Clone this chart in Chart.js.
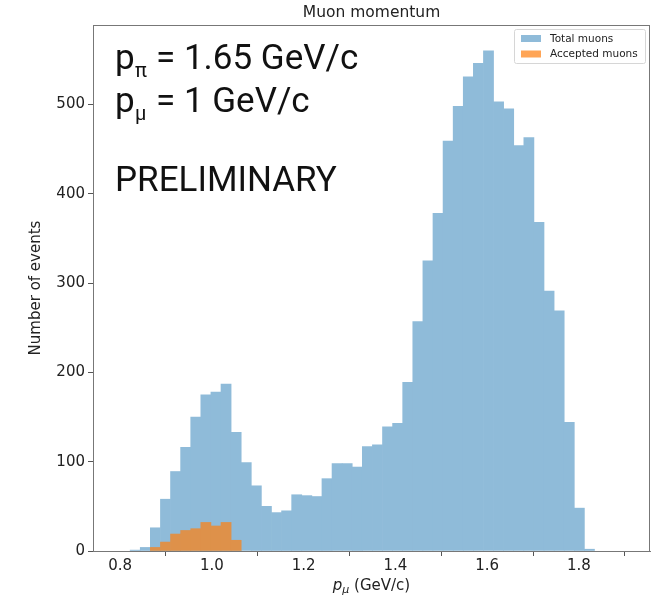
<!DOCTYPE html>
<html>
<head>
<meta charset="utf-8">
<script src="https://cdn.jsdelivr.net/npm/chart.js@4.4.0/dist/chart.umd.min.js"></script>
<style>
  html, body { margin: 0; padding: 0; background: #fff; }
  canvas { display: block; }
</style>
</head>
<body>
<canvas id="c" width="662" height="599"></canvas>
<script>
// histogram bins: 50 bins of width 0.022 starting at 0.8 GeV/c
const binStart = 0.8;
const binWidth = 0.022;
const totalMuons = [
  0, 1, 4, 26, 58, 89, 116, 150, 175, 178,
  187, 133, 99, 73, 50, 43, 45, 63, 62, 61,
  81, 98, 98, 94, 117, 119, 139, 143, 189, 257,
  325, 378, 459, 498, 531, 546, 560, 503, 495, 454,
  463, 368, 291, 269, 144, 48, 2, 0, 0, 0
];
const acceptedMuons = [
  0, 0, 0, 4, 10, 19, 23, 25, 32, 28,
  32, 12, 0, 0, 0, 0, 0, 0, 0, 0,
  0, 0, 0, 0, 0, 0, 0, 0, 0, 0,
  0, 0, 0, 0, 0, 0, 0, 0, 0, 0,
  0, 0, 0, 0, 0, 0, 0, 0, 0, 0
];
const xTicks = [0.8, 1.0, 1.2, 1.4, 1.6, 1.8];
const yTicks = [0, 100, 200, 300, 400, 500];
const seriesLabels = ['Total muons', 'Accepted muons'];
// alpha-blended matplotlib colours flattened to opaque (orange sits over blue)
const seriesColors = ['rgb(143,187,217)', 'rgb(222,145,74)'];
const legendColors = ['rgb(143,187,217)', 'rgb(255,165,86)'];

// empty bins get no bar at all
const toPoints = arr => arr.map((v, i) => ({ x: binStart + binWidth * (i + 0.5), y: v === 0 ? null : v }));

const FONT = '"DejaVu Sans", sans-serif';

const decor = {
  id: 'decor',
  afterDraw(chart) {
    const { ctx, chartArea: a } = chart;
    ctx.save();

    // frame (matplotlib spines)
    ctx.strokeStyle = '#777';
    ctx.lineWidth = 1;
    ctx.strokeRect(a.left + 0.5, a.top + 0.5, a.right - a.left - 1, a.bottom - a.top);

    // title
    ctx.fillStyle = '#222';
    ctx.font = '15.5px ' + FONT;
    ctx.textAlign = 'center';
    ctx.textBaseline = 'alphabetic';
    ctx.fillText('Muon momentum', (a.left + a.right) / 2, 17);

    // x axis title: p_mu (GeV/c)
    ctx.textAlign = 'left';
    const cx = (a.left + a.right) / 2;
    const by = 590;
    ctx.font = 'italic 15px ' + FONT;
    const wp = ctx.measureText('p').width;
    ctx.font = 'italic 11px ' + FONT;
    const wm = ctx.measureText('μ').width;
    ctx.font = '15px ' + FONT;
    const wr = ctx.measureText(' (GeV/c)').width;
    let x0 = cx - (wp + wm + wr) / 2;
    ctx.font = 'italic 15px ' + FONT;
    ctx.fillText('p', x0, by);
    ctx.font = 'italic 11px ' + FONT;
    ctx.fillText('μ', x0 + wp, by + 3);
    ctx.font = '15px ' + FONT;
    ctx.fillText(' (GeV/c)', x0 + wp + wm, by);

    // y axis title
    ctx.save();
    ctx.translate(40, (a.top + a.bottom) / 2);
    ctx.rotate(-Math.PI / 2);
    ctx.textAlign = 'center';
    ctx.font = '15px ' + FONT;
    ctx.fillText('Number of events', 0, 0);
    ctx.restore();

    // legend
    const lx = 514, ly = 29, lw = 131, lh = 34;
    ctx.fillStyle = 'rgba(255,255,255,0.8)';
    ctx.strokeStyle = '#d6d6d6';
    ctx.beginPath();
    ctx.roundRect(lx + 0.5, ly + 0.5, lw, lh, 2);
    ctx.fill();
    ctx.stroke();
    ctx.font = '10.5px ' + FONT;
    ctx.textAlign = 'left';
    ctx.textBaseline = 'middle';
    seriesLabels.forEach((lab, i) => {
      const ry = ly + 9.5 + i * 15.5;
      ctx.fillStyle = legendColors[i];
      ctx.fillRect(lx + 7, ry - 3.5, 20, 7);
      ctx.fillStyle = '#222';
      ctx.fillText(lab, lx + 36, ry + 0.5);
    });

    // annotations
    ctx.fillStyle = '#111';
    ctx.textBaseline = 'alphabetic';
    const big = '35px Roboto, sans-serif';
    const small = '20px Roboto, sans-serif';
    ctx.font = big;
    ctx.fillText('p', 115, 69);
    ctx.font = small;
    ctx.fillText('π', 135, 77);
    ctx.font = big;
    ctx.fillText('= 1.65 GeV/c', 156, 69);

    ctx.fillText('p', 115, 112);
    ctx.font = small;
    ctx.fillText('μ', 135, 120);
    ctx.font = big;
    ctx.fillText('= 1 GeV/c', 156, 112);

    ctx.fillText('PRELIMINARY', 115, 191);

    ctx.restore();
  }
};

new Chart(document.getElementById('c').getContext('2d'), {
  type: 'bar',
  data: {
    datasets: [
      {
        label: seriesLabels[0],
        data: toPoints(totalMuons),
        backgroundColor: seriesColors[0],
        borderWidth: 0,
        order: 1
      },
      {
        label: seriesLabels[1],
        data: toPoints(acceptedMuons),
        backgroundColor: seriesColors[1],
        borderWidth: 0,
        order: 0
      }
    ]
  },
  options: {
    responsive: false,
    animation: false,
    grouped: false,
    barPercentage: 1,
    categoryPercentage: 1,
    layout: { padding: { top: 25, right: 12, left: 0, bottom: 0 } },
    plugins: {
      legend: { display: false },
      title: { display: false },
      tooltip: { enabled: false }
    },
    scales: {
      x: {
        type: 'linear',
        min: 0.741,
        max: 1.955,
        offset: false,
        afterFit: s => { s.height = 48; },
        afterBuildTicks: s => { s.ticks = xTicks.map(v => ({ value: v })); },
        grid: { drawOnChartArea: false, drawTicks: true, tickLength: 5, color: '#555' },
        border: { display: true, color: '#777' },
        ticks: {
          padding: 1,
          color: '#222',
          font: { family: 'DejaVu Sans', size: 15 },
          maxRotation: 0,
          callback: v => v.toFixed(1)
        }
      },
      y: {
        min: 0,
        max: 589,
        afterFit: s => { s.width = 93; },
        afterBuildTicks: s => { s.ticks = yTicks.map(v => ({ value: v })); },
        grid: { drawOnChartArea: false, drawTicks: true, tickLength: 5, color: '#555' },
        border: { display: true, color: '#777' },
        ticks: {
          padding: 3,
          color: '#222',
          font: { family: 'DejaVu Sans', size: 15 },
          callback: v => String(v)
        }
      }
    }
  },
  plugins: [decor]
});
</script>
</body>
</html>
